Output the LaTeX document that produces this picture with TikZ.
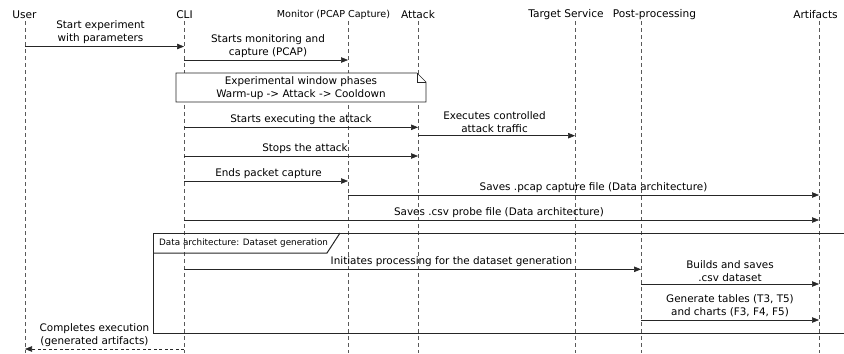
\documentclass[tikz,border=0pt]{standalone}
\usepackage{fontspec}
\setmainfont{DejaVu Sans}
\usetikzlibrary{arrows.meta}

\tikzset{
  lifeline/.style={draw=black!65, dash pattern=on 4bp off 3bp, line width=0.6bp},
  msg/.style={draw=black!85, line width=0.6bp, -{Triangle[length=7bp,width=5.5bp]}},
  reply/.style={msg, dash pattern=on 3bp off 2.5bp},
  msglabel/.style={above, inner sep=2.5bp, align=center},
  head/.style={font=\fontsize{10.6bp}{13bp}\selectfont, inner sep=0pt},
  framebox/.style={draw=black!85, line width=1bp},
}

\begin{document}
\begin{tikzpicture}[x=1bp, y=-1bp, font=\fontsize{10.4bp}{13bp}\selectfont]
  \useasboundingbox (0,0) rectangle (844,353);

  % participants
  \node[head] (hUser) at (24.5,15) {User};
  \node[head] (hCli) at (184.5,15) {CLI};
  \node[head, font=\fontsize{9.6bp}{12bp}\selectfont] (hMonitor) at (333.5,15) {Monitor (PCAP Capture)};
  \node[head] (hAttack) at (418,15) {Attack};
  \node[head] (hTarget) at (566,15) {Target Service};
  \node[head] (hPost) at (654.5,15) {Post-processing};
  \node[head] (hArtifacts) at (815.5,15) {Artifacts};

  % lifelines
  \coordinate (user) at (25,21);
  \coordinate (cli) at (184,21);
  \coordinate (monitor) at (348,21);
  \coordinate (attack) at (418,21);
  \coordinate (target) at (575,21);
  \coordinate (post) at (641,21);
  \coordinate (artifacts) at (819,21);
  \foreach \p in {user,cli,monitor,attack,target,post,artifacts}
    \draw[lifeline] (\p) -- (\p |- 0,353);

  % experiment run
  \draw[msg] (user |- 0,46.5) -- node[msglabel, xshift=-4bp] {Start experiment\\with parameters} (cli |- 0,46.5);
  \draw[msg] (cli |- 0,60) -- node[msglabel, xshift=2bp] {Starts monitoring and\\capture (PCAP)} (monitor |- 0,60);

  % note
  \draw[draw=black!85, fill=white, line width=0.6bp] (176,73) -- (417,73) -- (426,82) -- (426,102) -- (176,102) -- cycle;
  \draw[draw=black!85, line width=0.6bp] (417,73) -- (417,82) -- (426,82);
  \node[align=center] (phases) at (301,88.5) {Experimental window phases\\Warm-up -> Attack -> Cooldown};

  \draw[msg] (cli |- 0,127.3) -- node[msglabel] {Starts executing the attack} (attack |- 0,127.3);
  \draw[msg] (attack |- 0,135.7) -- node[msglabel, xshift=-2bp] {Executes controlled\\attack traffic} (target |- 0,135.7);
  \draw[msg] (cli |- 0,156) -- node[msglabel, xshift=4bp] {Stops the attack} (attack |- 0,156);
  \draw[msg] (cli |- 0,181) -- node[msglabel, xshift=2.5bp] {Ends packet capture} (monitor |- 0,181);
  \draw[msg] (monitor |- 0,195) -- node[msglabel, xshift=10bp] {Saves .pcap capture file (Data architecture)} (artifacts |- 0,195);
  \draw[msg] (cli |- 0,220) -- node[msglabel, xshift=-2.5bp] {Saves .csv probe file (Data architecture)} (artifacts |- 0,220);

  % group frame
  \draw[framebox] (844,233) -- (153,233) -- (153,333) -- (844,333);
  \draw[framebox] (153,253) -- (327,253) -- (340,233);
  \node[anchor=west, inner sep=0pt, font=\fontsize{8.8bp}{11bp}\selectfont] (tab) at (159,243) {Data architecture: Dataset generation};

  \draw[msg] (cli |- 0,269.3) -- node[msglabel, xshift=39bp] {Initiates processing for the dataset generation} (post |- 0,269.3);
  \draw[msg] (post |- 0,284) -- node[msglabel] {Builds and saves\\.csv dataset} (artifacts |- 0,284);
  \draw[msg] (post |- 0,320) -- node[msglabel] {Generate tables (T3, T5)\\and charts (F3, F4, F5)} (artifacts |- 0,320);

  \draw[reply] (cli |- 0,349) -- node[msglabel, xshift=-10bp] {Completes execution\\(generated artifacts)} (user |- 0,349);
\end{tikzpicture}
\end{document}
